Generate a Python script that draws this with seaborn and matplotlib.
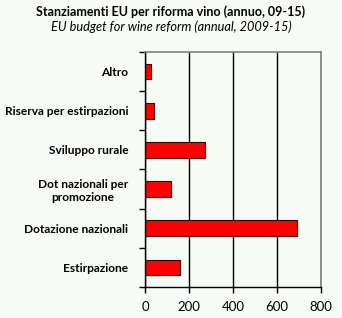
import matplotlib
matplotlib.use("Agg")
import matplotlib.pyplot as plt
import seaborn as sns
import pandas as pd
from matplotlib.ticker import FixedLocator

categories = ["Altro", "Riserva per estirpazioni", "Sviluppo rurale",
              "Dot nazionali per\npromozione", "Dotazione nazionali", "Estirpazione"]
values = [27, 40, 273, 118, 690, 160]
xticks = [0, 200, 400, 600, 800]

title = "Stanziamenti EU per riforma vino (annuo, 09-15)"
subtitle = "EU budget for wine reform (annual, 2009-15)"

sns.set_style("white")
plt.rcParams['font.family'] = ['Lato', 'DejaVu Sans']
plt.rcParams['text.color'] = 'black'
plt.rcParams['xtick.color'] = 'black'
plt.rcParams['ytick.color'] = 'black'

bg = "#F6FBF6"
fig = plt.figure(figsize=(3.42, 3.18), dpi=100, facecolor=bg)
ax = fig.add_axes([0.424, 0.0975, 0.9386 - 0.424, 0.8365 - 0.0975])
ax.set_facecolor(bg)

df = pd.DataFrame({"cat": categories, "val": values})
sns.barplot(data=df, x="val", y="cat", orient="h", color="#FF0000",
            edgecolor="#3a0000", linewidth=0.8, width=0.4, saturation=1, ax=ax)

ax.set_xlim(0, 800)
ax.set_ylim(5.5, -0.5)
ax.set_xticks(xticks)
ax.set_xticklabels([str(t) for t in xticks], fontsize=9.5)
ax.xaxis.grid(True, color="black", linewidth=1)
ax.set_axisbelow(True)
ax.set_xlabel("")
ax.set_ylabel("")

ax.tick_params(axis="y", which="major", length=0, pad=12, labelsize=8.6)
for lab in ax.get_yticklabels():
    lab.set_fontweight("bold")
    lab.set_horizontalalignment("right")
    lab.set_multialignment("center")
ax.yaxis.set_minor_locator(FixedLocator([i - 0.5 for i in range(len(categories) + 1)]))
ax.tick_params(axis="y", which="minor", length=4, width=1, color="black", left=True)
ax.tick_params(axis="x", which="major", length=4, width=1, color="black", bottom=True, pad=6)

for s in ["left", "bottom"]:
    ax.spines[s].set_color("black")
    ax.spines[s].set_linewidth(1)
for s in ["top", "right"]:
    ax.spines[s].set_color("#808080")
    ax.spines[s].set_linewidth(1.2)

fig.text(0.5, 0.962, title, ha="center", va="center", fontsize=9, fontweight="bold")
fig.text(0.5, 0.915, subtitle, ha="center", va="center", fontsize=9.2, fontstyle="italic")

fig.savefig("out.png", dpi=100, facecolor=bg)
